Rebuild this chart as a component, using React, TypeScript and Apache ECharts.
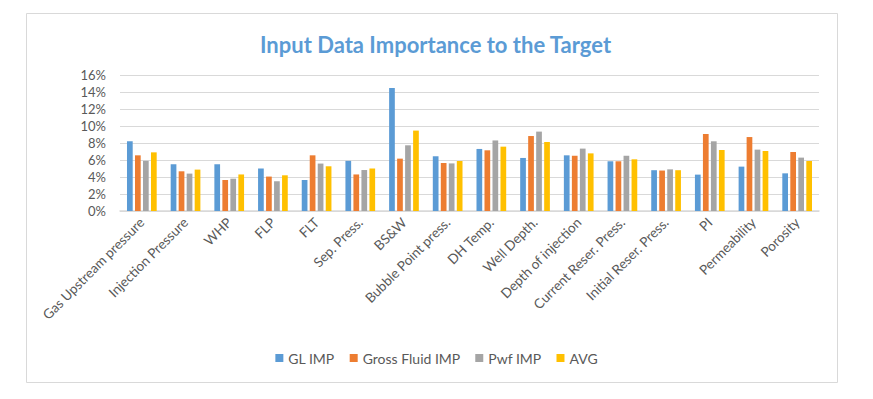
import React, { useEffect, useRef } from "react";
import * as echarts from "echarts";

const categories = [
  "Gas Upstream pressure",
  "Injection Pressure",
  "WHP",
  "FLP",
  "FLT",
  "Sep. Press.",
  "BS&W",
  "Bubble Point press.",
  "DH Temp.",
  "Well Depth.",
  "Depth of injection",
  "Current Reser. Press.",
  "Initial Reser. Press.",
  "PI",
  "Permeability",
  "Porosity",
];

const glImp = [8.2, 5.5, 5.5, 5.0, 3.65, 5.9, 14.47, 6.44, 7.3, 6.24, 6.55, 5.85, 4.8, 4.28, 5.22, 4.43];
const grossFluidImp = [6.55, 4.67, 3.65, 4.05, 6.55, 4.3, 6.16, 5.65, 7.14, 8.82, 6.5, 5.85, 4.76, 9.06, 8.7, 6.94];
const pwfImp = [5.9, 4.4, 3.8, 3.5, 5.58, 4.82, 7.73, 5.6, 8.3, 9.34, 7.34, 6.5, 4.9, 8.2, 7.22, 6.28];
const avg = [6.9, 4.87, 4.3, 4.2, 5.26, 5.0, 9.46, 5.88, 7.57, 8.12, 6.78, 6.08, 4.8, 7.18, 7.06, 5.88];

const seriesNames = ["GL IMP", "Gross Fluid IMP", "Pwf IMP", "AVG"];
const seriesColors = ["#5B9BD5", "#ED7D31", "#A5A5A5", "#FFC000"];
const seriesData = [glImp, grossFluidImp, pwfImp, avg];

const FONT = "Lato, 'Open Sans', sans-serif";

export default function App() {
  const ref = useRef<HTMLDivElement>(null);
  useEffect(() => {
    document.body.style.margin = "0";
    if (!ref.current) return;
    const chart = echarts.init(ref.current, null, { renderer: "svg" });
    chart.setOption({
      animation: false,
      backgroundColor: "#ffffff",
      textStyle: { fontFamily: FONT },
      title: {
        text: "Input Data Importance to the Target",
        left: 255,
        top: 28,
        textStyle: { color: "#5B9BD5", fontSize: 22, fontWeight: "bold", fontFamily: FONT },
      },
      graphic: [
        {
          type: "rect",
          shape: { x: 26.5, y: 13.5, width: 811, height: 369 },
          style: { fill: "none", stroke: "#D9D9D9", lineWidth: 1 },
          silent: true,
        },
      ],
      legend: {
        bottom: 29,
        left: "center",
        itemWidth: 8,
        itemHeight: 8,
        itemGap: 15,
        icon: "rect",
        textStyle: { color: "#595959", fontSize: 14, fontFamily: FONT },
        data: seriesNames,
      },
      grid: { left: 120, right: 54, top: 75, bottom: 188, containLabel: false },
      xAxis: {
        type: "category",
        data: categories,
        axisLine: { lineStyle: { color: "#D9D9D9", width: 1.5 } },
        axisTick: { show: false },
        axisLabel: { rotate: 45, color: "#595959", fontSize: 13.5, fontFamily: FONT, interval: 0, margin: 9 },
      },
      yAxis: {
        type: "value",
        min: 0,
        max: 16,
        interval: 2,
        axisLine: { show: false },
        axisTick: { show: false },
        axisLabel: { formatter: "{value}%", color: "#595959", fontSize: 13, fontFamily: FONT, margin: 14 },
        splitLine: { lineStyle: { color: "#D9D9D9", width: 1 } },
      },
      series: seriesData.map((d, i) => ({
        name: seriesNames[i],
        type: "bar",
        data: d,
        itemStyle: { color: seriesColors[i] },
        barGap: "40%",
        barCategoryGap: "32%",
      })),
    });
    return () => chart.dispose();
  }, []);
  return <div ref={ref} style={{ width: 873, height: 399 }} />;
}
